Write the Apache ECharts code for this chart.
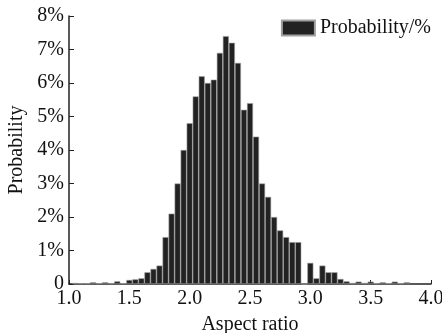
<!DOCTYPE html>
<html><head><meta charset="utf-8">
<script src="https://cdn.jsdelivr.net/npm/echarts@6/dist/echarts.min.js"></script>
<style>html,body{margin:0;padding:0;background:#fff}#c{width:442px;height:333px}</style>
</head><body><div id="c"></div>
<script>
const binCenters = [1.05,1.1,1.15,1.2,1.25,1.3,1.35,1.4,1.45,1.5,1.55,1.6,1.65,1.7,1.75,1.8,1.85,1.9,1.95,2.0,2.05,2.1,2.15,2.2,2.25,2.3,2.35,2.4,2.45,2.5,2.55,2.6,2.65,2.7,2.75,2.8,2.85,2.9,2.95,3.0,3.05,3.1,3.15,3.2,3.25,3.3,3.35,3.4,3.45,3.5,3.55,3.6,3.65,3.7,3.75,3.8];
const probability = [0.03,0.02,0.02,0.05,0.02,0.05,0.02,0.08,0.02,0.12,0.14,0.17,0.35,0.45,0.55,1.4,2.1,3.0,4.0,4.8,5.6,6.2,6.0,6.1,6.9,7.4,7.2,6.6,5.2,5.4,4.4,3.0,2.6,2.0,1.6,1.4,1.25,1.25,0,0.63,0.17,0.55,0.35,0.35,0.15,0.08,0.03,0.07,0.03,0.07,0.02,0.05,0.02,0.07,0.02,0.05];
const seriesName = 'Probability/%';
const xTicks = [1.0,1.5,2.0,2.5,3.0,3.5,4.0];
const yTicks = [0,1,2,3,4,5,6,7,8];

const font = 'Liberation Serif';
const chart = echarts.init(document.getElementById('c'), null, {renderer:'canvas'});
chart.setOption({
  animation:false,
  backgroundColor:'#fff',
  textStyle:{fontFamily:font,color:'#111'},
  grid:{left:69,right:11,top:16,bottom:49,containLabel:false,outerBoundsMode:'none'},
  legend:{
    right:6, top:13, itemWidth:33, itemHeight:15, itemGap:5, icon:'rect',
    textStyle:{fontFamily:font,fontSize:20,color:'#111'},
    data:[seriesName]
  },
  xAxis:{
    type:'value', min:xTicks[0], max:xTicks[xTicks.length-1], interval:0.5,
    name:'Aspect ratio', nameLocation:'middle', nameGap:31,
    nameTextStyle:{fontFamily:font,fontSize:20,color:'#111'},
    axisLine:{show:true,lineStyle:{color:'#222',width:1.5}},
    axisTick:{show:true,inside:true,length:4,lineStyle:{color:'#222'}},
    axisLabel:{fontFamily:font,fontSize:20,color:'#111',margin:5,formatter:v=>v.toFixed(1)},
    splitLine:{show:false}
  },
  yAxis:{
    type:'value', min:yTicks[0], max:yTicks[yTicks.length-1], interval:1,
    name:'Probability', nameLocation:'middle', nameGap:40, nameRotate:90,
    nameTextStyle:{fontFamily:font,fontSize:20,color:'#111'},
    axisLine:{show:true,lineStyle:{color:'#222',width:1.5}},
    axisTick:{show:true,inside:true,length:5,lineStyle:{color:'#222'}},
    axisLabel:{fontFamily:font,fontSize:20,color:'#111',margin:5,formatter:v=>v===0?'0':v+'%'},
    splitLine:{show:false}
  },
  series:[{
    name:seriesName, type:'bar', barWidth:'100%', barGap:'0%',
    itemStyle:{color:'#222',borderColor:'#a0a0a0',borderWidth:0.6},
    data:binCenters.map((x,i)=>[x,probability[i]])
  }]
});
</script></body></html>
